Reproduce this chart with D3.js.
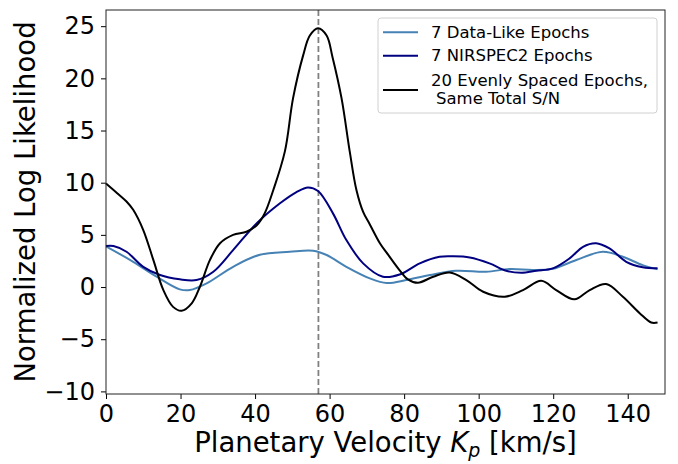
<!DOCTYPE html>
<html>
<head>
<meta charset="utf-8">
<script src="https://cdn.jsdelivr.net/npm/d3@7"></script>
<style>
  body { margin: 0; background: #fff; }
  text { font-family: "DejaVu Sans", sans-serif; }
</style>
</head>
<body>
<div id="chart"><svg width="678" height="464"></svg></div>
<script>
// data
let kpDataLike = [0, 7.3, 13.6, 19.8, 22.5, 27, 34.1, 41.3, 49.3, 55.6, 59.2, 64.5, 70.8, 75.3, 80.6, 86.9, 94, 102, 108.3, 114.6, 119.9, 126.2, 133.3, 138.7, 144, 148];
let llDataLike = [3.9, 2.42, 0.99, -0.22, -0.29, 0.35, 1.94, 3.1, 3.38, 3.48, 3.07, 1.94, 0.83, 0.38, 0.67, 1.15, 1.56, 1.47, 1.72, 1.63, 1.75, 2.59, 3.38, 2.9, 2.1, 1.7];

let kpNirspec = [0, 2, 5.5, 10, 14.5, 19.8, 24.3, 28.8, 34.1, 40.4, 46.6, 51.1, 54.2, 56.9, 60.9, 64.5, 69, 74.3, 78.8, 84.2, 89.5, 93, 97.6, 102.9, 107.4, 111.4, 115.5, 119.9, 124.4, 128, 131.5, 135.1, 139.6, 144, 148];
let llNirspec = [3.93, 3.93, 3.38, 1.94, 1.15, 0.74, 0.67, 1.47, 3.54, 6.1, 8.0, 9.1, 9.55, 9.2, 7.06, 4.5, 2.27, 0.99, 1.2, 2.27, 2.9, 2.95, 2.84, 2.27, 1.56, 1.37, 1.56, 1.79, 2.75, 3.86, 4.2, 3.7, 2.42, 1.9, 1.8];

let kpEven = [0, 3, 5.5, 7.3, 10, 12.7, 15.4, 18, 20.3, 23, 25.2, 27.9, 30.6, 34.1, 37.7, 40.4, 42.5, 44.9, 48, 50.2, 52.9, 54.7, 56.9, 59.2, 60.8, 63.2, 65.4, 67.2, 69, 70.8, 73.5, 75.3, 78.8, 81, 83.7, 87.8, 92.2, 96.7, 101.2, 107, 111.9, 116.8, 120.8, 125.7, 129.8, 134.2, 138.7, 143.2, 146.3, 148];
let llEven = [9.93, 9.0, 8.2, 7.4, 5.46, 2.6, -0.3, -1.9, -2.27, -1.56, 0.03, 2.6, 4.2, 5.0, 5.3, 5.9, 7.0, 9.3, 13.0, 18.1, 22.2, 24.1, 24.8, 24.1, 22.0, 18.1, 13.0, 9.3, 7.2, 6.0, 4.2, 3.3, 1.6, 0.74, 0.41, 0.99, 1.4, 0.67, -0.45, -0.93, -0.29, 0.6, -0.29, -1.18, -0.29, 0.29, -0.93, -2.5, -3.4, -3.4];

let seriesNames = ["7 Data-Like Epochs", "7 NIRSPEC2 Epochs", "20 Evenly Spaced Epochs,|Same Total S/N"];
let seriesColors = ["steelblue", "navy", "black"];
let trueKp = 57;
let xTicks = [0, 20, 40, 60, 80, 100, 120, 140];
let yTicks = [-10, -5, 0, 5, 10, 15, 20, 25];

function drawChart() {
    let svg = d3.select("#chart").select("svg");
    let width = 678;
    let height = 464;
    let margin = {top: 10, right: 13, bottom: 70, left: 106};

    svg.append("rect").attr("width", width).attr("height", height).attr("fill", "white");

    let x = d3.scaleLinear()
        .domain([0, 150])
        .range([margin.left, width - margin.right]);
    let y = d3.scaleLinear()
        .domain([-10.25, 26.55])
        .range([height - margin.bottom, margin.top]);

    // axes
    let xAxis = svg.append("g")
        .attr("transform", "translate(0," + (height - margin.bottom) + ")")
        .call(d3.axisBottom(x).tickValues(xTicks).tickSize(5).tickPadding(6).tickSizeOuter(0));
    let yAxis = svg.append("g")
        .attr("transform", "translate(" + margin.left + ",0)")
        .call(d3.axisLeft(y).tickValues(yTicks).tickSize(5).tickPadding(6).tickSizeOuter(0));
    [xAxis, yAxis].forEach(function (g) {
        g.select(".domain").remove();
        g.selectAll("text").attr("font-size", 24).attr("fill", "black")
            .style("font-family", "DejaVu Sans");
        g.selectAll("line").attr("stroke", "black");
    });

    // dashed marker at true Kp
    svg.append("line")
        .attr("x1", x(trueKp)).attr("x2", x(trueKp))
        .attr("y1", margin.top).attr("y2", height - margin.bottom)
        .attr("stroke", "gray")
        .attr("stroke-width", 1.8)
        .attr("stroke-dasharray", "6,3");

    let line = d3.line()
        .x(function (d) { return x(d[0]); })
        .y(function (d) { return y(d[1]); })
        .curve(d3.curveCatmullRom.alpha(0.5));

    let allSeries = [
        d3.zip(kpDataLike, llDataLike),
        d3.zip(kpNirspec, llNirspec),
        d3.zip(kpEven, llEven)
    ];

    svg.append("g").selectAll("path")
        .data(allSeries)
        .join("path")
        .attr("d", line)
        .attr("fill", "none")
        .attr("stroke", function (d, i) { return seriesColors[i]; })
        .attr("stroke-width", 2);

    // frame
    svg.append("rect")
        .attr("x", margin.left).attr("y", margin.top)
        .attr("width", width - margin.left - margin.right)
        .attr("height", height - margin.top - margin.bottom)
        .attr("fill", "none")
        .attr("stroke", "#222")
        .attr("stroke-width", 1);

    // axis labels
    let xl = svg.append("text")
        .attr("x", (margin.left + width - margin.right) / 2)
        .attr("y", 452)
        .attr("text-anchor", "middle")
        .attr("font-size", 27.5);
    xl.append("tspan").text("Planetary Velocity ");
    xl.append("tspan").attr("font-style", "italic").text("K");
    xl.append("tspan").attr("font-style", "italic").attr("font-size", 19).attr("dy", 5).text("p");
    xl.append("tspan").attr("dy", -5).text(" [km/s]");

    svg.append("text")
        .attr("transform", "translate(35," + ((margin.top + height - margin.bottom) / 2) + ") rotate(-90)")
        .attr("text-anchor", "middle")
        .attr("font-size", 27.5)
        .text("Normalized Log Likelihood");

    // legend
    let legend = svg.append("g");
    legend.append("rect")
        .attr("x", 378).attr("y", 18)
        .attr("width", 279).attr("height", 95)
        .attr("rx", 3)
        .attr("fill", "white").attr("fill-opacity", 0.8)
        .attr("stroke", "#d0d0d0");
    let lineY = [32.3, 55.7, 90];
    let textY = [[37.5], [61.3], [86, 104.3]];
    seriesNames.forEach(function (name, i) {
        legend.append("line")
            .attr("x1", 383).attr("x2", 418)
            .attr("y1", lineY[i]).attr("y2", lineY[i])
            .attr("stroke", seriesColors[i])
            .attr("stroke-width", 2);
        name.split("|").forEach(function (part, j) {
            legend.append("text")
                .attr("x", j === 0 ? 431 : 436)
                .attr("y", textY[i][j])
                .attr("font-size", 16.5)
                .text(part);
        });
    });
}

drawChart();
</script>
</body>
</html>
